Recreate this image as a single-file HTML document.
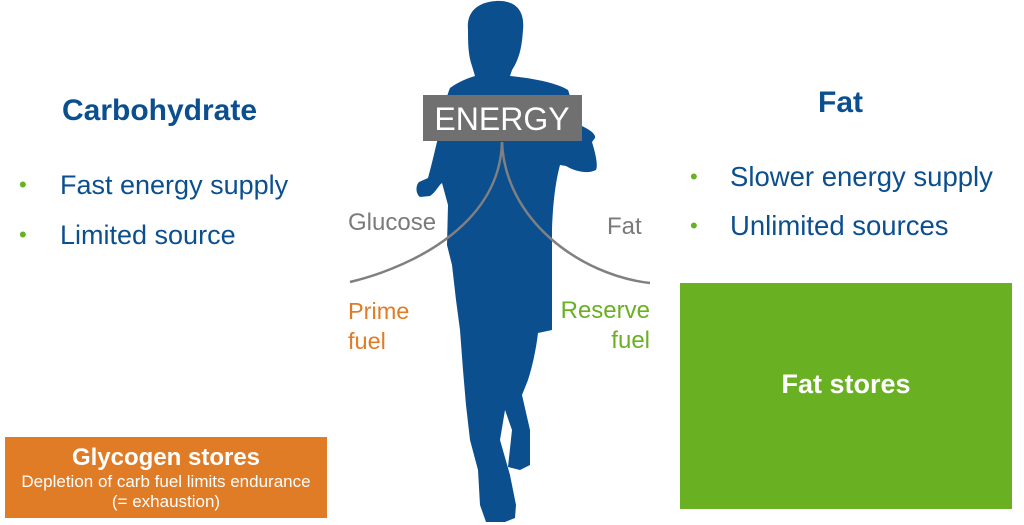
<!DOCTYPE html>
<html><head><meta charset="utf-8"><style>
body{margin:0;width:1024px;height:525px;background:#fff;position:relative;overflow:hidden;font-family:"Liberation Sans",sans-serif}
.a{position:absolute;white-space:nowrap}
.d{position:absolute;color:#6ab023;font-size:22px}
</style></head><body>
<svg class="a" style="left:0;top:0" width="1024" height="525">
<path fill="#0c4f8f" d="M468,30 C466,10 480,2 496,1 C515,0 525,10 523,30 C522,45 520,58 512,70 L510,76 C530,78 555,82 568,90 C572,100 572,115 570,122 L582,126 C590,130 596,134 595,138 L592,142 C596,155 598,165 596,170 C588,174 576,172 566,166 L560,165 C556,180 553,200 552,230 L552,330 L538,333 C536,350 532,368 528,380 L522,395 L530,430 L530,465 L520,470 L508,467 L512,430 L505,410 L500,440 L510,475 L516,505 L515,518 L505,522 L486,522 L480,505 L478,470 L470,440 L466,405 L463,370 L460,330 L456,300 L452,265 L447,245 L448,205 L442,183 C438,186 436,192 430,196 L420,197 C415,193 416,185 419,182 L428,178 C433,160 436,145 440,130 C443,110 447,95 450,88 C458,82 468,78 475,76 L472,66 C468,55 468,42 468,30 Z"/>
<path d="M502,142 C500,220 420,265 350,282" stroke="#808080" stroke-width="2.5" fill="none"/>
<path d="M502,142 C505,220 580,275 650,283" stroke="#808080" stroke-width="2.5" fill="none"/>
<rect x="423" y="95" width="159" height="46" fill="#707070"/>
<text x="502" y="130" fill="#fff" font-size="32" text-anchor="middle" font-family="Liberation Sans">ENERGY</text>
</svg>
<div class="a" style="left:62px;top:94px;font-size:30px;font-weight:bold;color:#0c4f8f">Carbohydrate</div>
<div class="d" style="left:19px;top:172px">•</div>
<div class="a" style="left:60px;top:170px;font-size:27px;color:#0c4f8f">Fast energy supply</div>
<div class="d" style="left:19px;top:222px">•</div>
<div class="a" style="left:60px;top:220px;font-size:27px;color:#0c4f8f">Limited source</div>
<div class="a" style="left:818px;top:86px;font-size:30px;font-weight:bold;color:#0c4f8f">Fat</div>
<div class="d" style="left:690px;top:164px">•</div>
<div class="a" style="left:730px;top:161px;font-size:27.5px;color:#0c4f8f">Slower energy supply</div>
<div class="d" style="left:690px;top:213px">•</div>
<div class="a" style="left:730px;top:210px;font-size:27.5px;color:#0c4f8f">Unlimited sources</div>
<div class="a" style="left:348px;top:209px;font-size:24px;color:#7a7a7a">Glucose</div>
<div class="a" style="left:607px;top:213px;font-size:24px;color:#7a7a7a">Fat</div>
<div class="a" style="left:348px;top:296px;font-size:23.5px;color:#e07b26;line-height:30px">Prime<br>fuel</div>
<div class="a" style="right:374px;top:296px;font-size:24px;color:#6ab023;line-height:30px;text-align:right">Reserve<br>fuel</div>
<div class="a" style="left:680px;top:283px;width:332px;height:226px;background:#6ab023;"><div style="position:absolute;left:0;right:0;top:86px;text-align:center;color:#fff;font-weight:bold;font-size:27px">Fat stores</div></div>
<div class="a" style="left:5px;top:437px;width:322px;height:81px;background:#e07b26;color:#fff;text-align:center">
<div style="font-weight:bold;font-size:24px;margin-top:7px;line-height:28px">Glycogen stores</div>
<div style="font-size:17px;line-height:20px">Depletion of carb fuel limits endurance<br>(= exhaustion)</div></div>
</body></html>
